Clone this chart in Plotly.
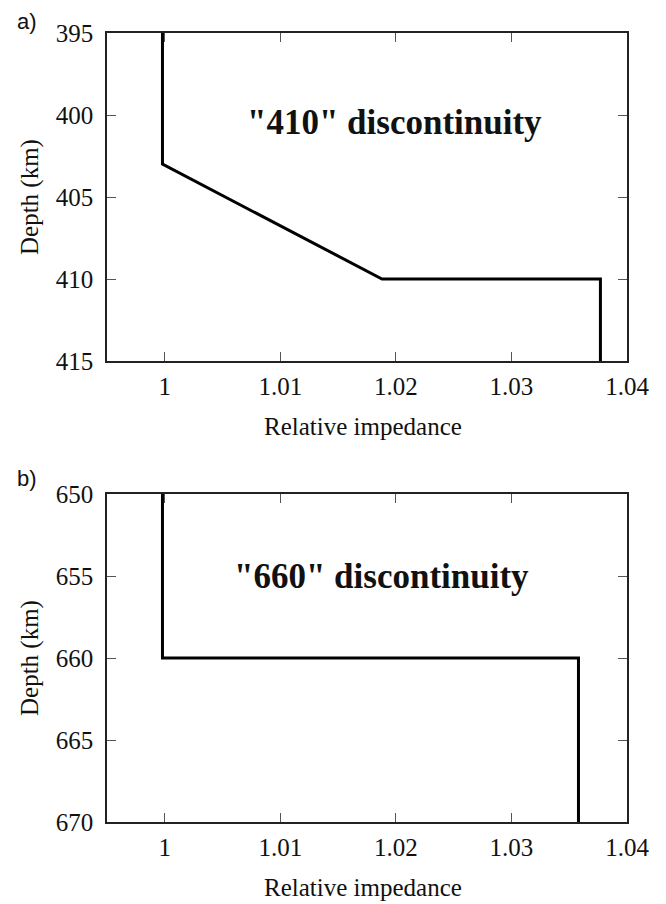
import plotly.graph_objects as go
from plotly.subplots import make_subplots

# Impedance profile across the 410 km discontinuity
depth_410 = [395, 403, 410, 410, 415]
imp_410 = [0.9998, 0.9998, 1.0188, 1.0377, 1.0377]

# Impedance profile across the 660 km discontinuity
depth_660 = [650, 660, 660, 670]
imp_660 = [0.9998, 0.9998, 1.0358, 1.0358]

x_ticks = [1, 1.01, 1.02, 1.03, 1.04]
x_ticktext = ["1", "1.01", "1.02", "1.03", "1.04"]
y_ticks_410 = [395, 400, 405, 410, 415]
y_ticks_660 = [650, 655, 660, 665, 670]

SERIF = "Liberation Serif"
SANS = "Liberation Sans"
W, H = 666, 904

fig = make_subplots(rows=2, cols=1)

fig.add_trace(go.Scatter(x=imp_410, y=depth_410, mode="lines",
                         line=dict(color="black", width=3), showlegend=False),
              row=1, col=1)
fig.add_trace(go.Scatter(x=imp_660, y=depth_660, mode="lines",
                         line=dict(color="black", width=3), showlegend=False),
              row=2, col=1)

xdom = [107 / W, 627 / W]
axis_common = dict(showline=True, linecolor="#222", linewidth=1.6, mirror="ticks",
                   ticks="inside", ticklen=9, tickwidth=1.3, tickcolor="#555",
                   showgrid=False, zeroline=False, automargin=False,
                   tickfont=dict(family=SERIF, size=25, color="#111"))

fig.update_xaxes(**axis_common, range=[0.995, 1.04], tickvals=x_ticks,
                 ticktext=x_ticktext, domain=xdom, ticklabelstandoff=2)
fig.update_yaxes(**axis_common, ticklabelstandoff=7)
fig.update_yaxes(range=[415, 395], tickvals=y_ticks_410,
                 domain=[1 - 361 / H, 1 - 33 / H], row=1, col=1)
fig.update_yaxes(range=[670, 650], tickvals=y_ticks_660,
                 domain=[1 - 822 / H, 1 - 494 / H], row=2, col=1)

ann = []
# panel letters
for txt, yc in (("a)", 22), ("b)", 478)):
    ann.append(dict(text=txt, x=27 / W, y=1 - yc / H, xref="paper", yref="paper",
                    showarrow=False, xanchor="center", yanchor="middle",
                    font=dict(family=SANS, size=22, color="#111")))
# axis titles
for yc in (197, 658):
    ann.append(dict(text="Depth (km)", x=30 / W, y=1 - yc / H, xref="paper",
                    yref="paper", showarrow=False, textangle=-90,
                    xanchor="center", yanchor="middle",
                    font=dict(family=SERIF, size=25, color="#111")))
for yc in (427, 887):
    ann.append(dict(text="Relative impedance", x=363 / W, y=1 - yc / H,
                    xref="paper", yref="paper", showarrow=False,
                    xanchor="center", yanchor="middle",
                    font=dict(family=SERIF, size=25, color="#111")))
# in-panel labels
ann.append(dict(text="<b>\"410\" discontinuity</b>", x=394 / W, y=1 - 123 / H,
                xref="paper", yref="paper", showarrow=False,
                xanchor="center", yanchor="middle",
                font=dict(family=SERIF, size=35, color="#111")))
ann.append(dict(text="<b>\"660\" discontinuity</b>", x=382 / W, y=1 - 576 / H,
                xref="paper", yref="paper", showarrow=False,
                xanchor="center", yanchor="middle",
                font=dict(family=SERIF, size=35, color="#111")))

fig.update_layout(width=W, height=H, margin=dict(l=0, r=0, t=0, b=0),
                  paper_bgcolor="white", plot_bgcolor="white",
                  annotations=ann, showlegend=False)

fig.write_html("out.html")
